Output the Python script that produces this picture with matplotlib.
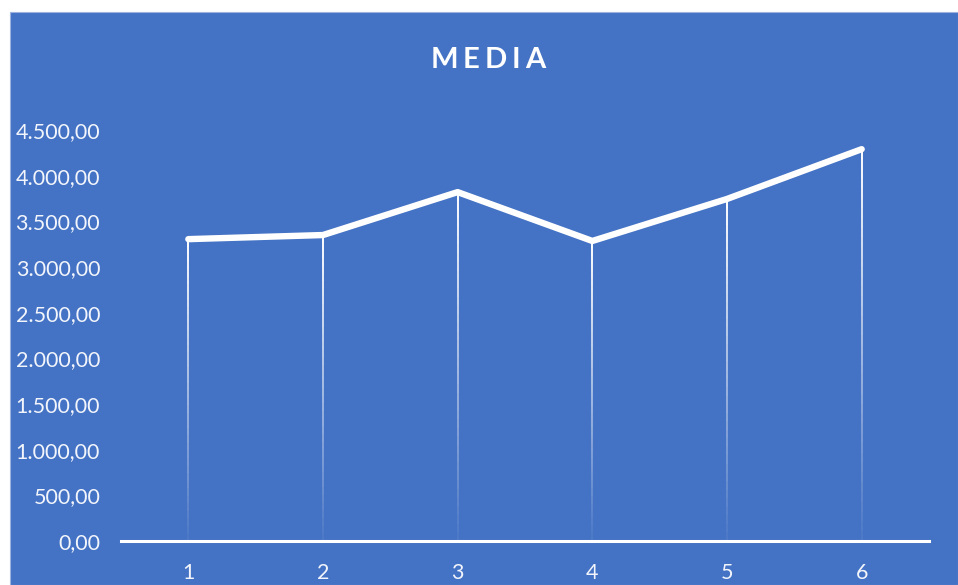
import numpy as np
import matplotlib.pyplot as plt
from matplotlib.patches import Rectangle
from matplotlib.collections import LineCollection
from matplotlib.ticker import FuncFormatter

periods = [1, 2, 3, 4, 5, 6]
media = [3305, 3350, 3820, 3285, 3745, 4290]
yticks = [0, 500, 1000, 1500, 2000, 2500, 3000, 3500, 4000, 4500]

blue = '#4472C4'
txt = '#F2F5FB'

plt.rcParams['font.family'] = ['Lato', 'DejaVu Sans']

fig = plt.figure(figsize=(9.58, 5.85), dpi=100)
fig.patch.set_facecolor('white')
fig.patches.append(Rectangle((10 / 958, 0), 948 / 958, 573 / 585,
                             transform=fig.transFigure, facecolor=blue,
                             edgecolor='#9DB3DD', linewidth=0.8, zorder=-1))

ax = fig.add_axes([121 / 958, 44 / 585, 808 / 958, 411 / 585])
ax.set_facecolor('none')

# drop lines fading towards the bottom
n = 40
for x, y in zip(periods, media):
    ys = np.linspace(0, y, n + 1)
    segs = [[(x, ys[i]), (x, ys[i + 1])] for i in range(n)]
    alphas = np.linspace(0.05, 1.0, n)
    cols = [(1, 1, 1, a) for a in alphas]
    ax.add_collection(LineCollection(segs, colors=cols, linewidths=1.4, zorder=2))

ax.plot(periods, media, color='white', linewidth=4.6, solid_capstyle='round',
        solid_joinstyle='round', zorder=3)

ax.set_xlim(0.5, 6.5)
ax.set_ylim(0, 4500)
ax.set_xticks(periods)
ax.set_yticks(yticks)
ax.yaxis.set_major_formatter(FuncFormatter(
    lambda v, p: '{:,.2f}'.format(v).replace(',', 'X').replace('.', ',').replace('X', '.')))

for s in ['top', 'right', 'left']:
    ax.spines[s].set_visible(False)
ax.spines['bottom'].set_color('white')
ax.spines['bottom'].set_linewidth(2.2)
ax.tick_params(axis='both', length=0, labelcolor=txt, labelsize=15.5)
ax.tick_params(axis='y', pad=15)
ax.tick_params(axis='x', pad=16)

# title with wide letter spacing, letters placed by measured width
title = 'MEDIA'
renderer = fig.canvas.get_renderer()
tracking = 5
items = []
total = 0
for ch in title:
    t = fig.text(0, 1 - 60 / 585, ch, color='white', fontsize=21,
                 fontweight='bold', ha='left', va='center')
    w = t.get_window_extent(renderer).width
    items.append((t, w))
    total += w
total += tracking * (len(title) - 1)
xp = 488 - total / 2
for t, w in items:
    t.set_x(xp / 958)
    xp += w + tracking

fig.savefig('out.png', dpi=100, facecolor=fig.get_facecolor())
